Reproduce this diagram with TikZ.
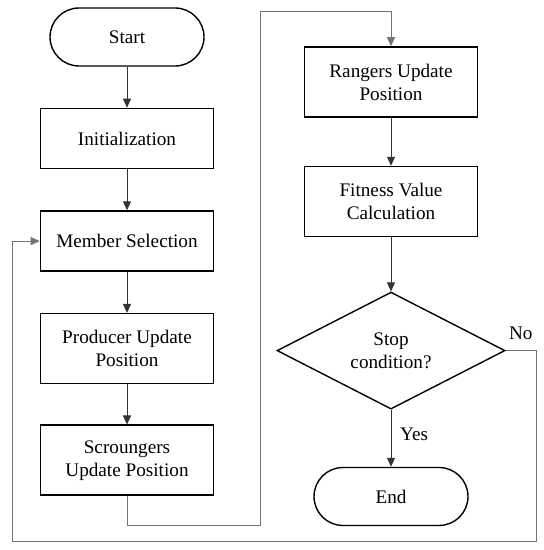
\documentclass[tikz,border=0pt]{standalone}
\usepackage{fontspec}
\setmainfont{Liberation Serif}
\usepackage{tikz}
\usetikzlibrary{shapes.geometric, arrows.meta, positioning}

\begin{document}
\begin{tikzpicture}[
    x=1pt, y=1pt,
    font=\fontsize{9.6}{11.5}\selectfont,
    terminal/.style={
        rectangle, draw=black, line width=0.7pt, fill=white,
        minimum width=77pt, minimum height=29pt, rounded corners=14.5pt
    },
    block/.style={
        rectangle, draw=black, line width=0.8pt, fill=white,
        align=center, minimum width=86.5pt
    },
    decision/.style={
        diamond, draw=black, line width=0.7pt, fill=white,
        align=center, aspect=1.95, inner sep=0pt,
        minimum width=114pt, minimum height=58.5pt
    },
    arrow/.style={-{Triangle[length=4.5pt,width=4pt]}, line width=0.5pt, color=black!80},
    loopline/.style={-{Triangle[length=4.5pt,width=4pt]}, line width=0.5pt, color=black!55}
]
\useasboundingbox (0,0) rectangle (271.5,275);

% Left column
\node[terminal] (start) at (63.5,256.5) {Start};
\node[block, minimum height=30pt, below=20.5pt of start] (init) {Initialization};
\node[block, minimum height=30pt, below=20.5pt of init] (member) {Member Selection};
\node[block, minimum height=35pt, below=20.5pt of member] (producer) {Producer Update\\Position};
\node[block, minimum height=35pt, below=20pt of producer] (scrounger) {Scroungers\\Update Position};

% Right column
\node[block, minimum height=35pt] (ranger) at (195.5,234) {Rangers Update\\Position};
\node[block, minimum height=35pt, below=24pt of ranger] (fitness) {Fitness Value\\Calculation};
\node[decision, below=27pt of fitness] (stop) {Stop\\condition?};
\node[terminal, below=28.5pt of stop] (finish) {End};

% Corners of the loops
\coordinate (jumpB) at (130,12);
\coordinate (jumpT) at (130,269);
\coordinate (backR) at (268,4);
\coordinate (backL) at (6,4);

% Paths
\draw[arrow] (start) -- (init);
\draw[arrow] (init) -- (member);
\draw[arrow] (member) -- (producer);
\draw[arrow] (producer) -- (scrounger);
\draw[loopline] (scrounger.south) |- (jumpB) -- (jumpT) -| (ranger.north);
\draw[arrow] (ranger) -- (fitness);
\draw[arrow] (fitness) -- (stop);
\draw[arrow] (stop) -- node[pos=0.43, right=1pt, text=black]{Yes} (finish);
\draw[loopline] (stop.east) -| node[pos=0.25, above=2pt, text=black]{No} (backR) -- (backL) |- (member.west);

\end{tikzpicture}
\end{document}
